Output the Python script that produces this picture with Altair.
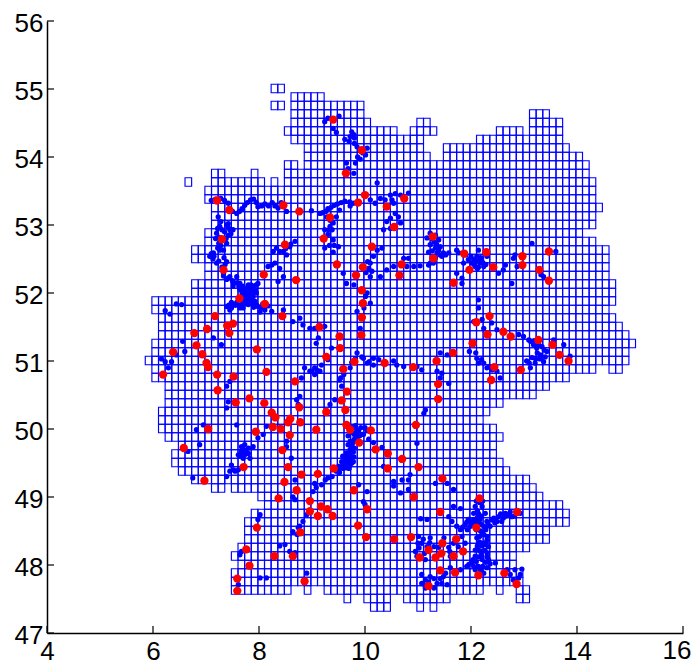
import altair as alt
import pandas as pd

x_ticks = [4, 6, 8, 10, 12, 14, 16]
y_ticks = [47, 48, 49, 50, 51, 52, 53, 54, 55, 56]

grid_west = 5.854
grid_north = 55.07
cell = 0.125
# occupied grid columns per grid row, north to south
grid_rows = [
    [(19, 20)], [(22, 26)], [(19, 20), (22, 32)], [(22, 32), (58, 60)],
    [(22, 33), (41, 42), (58, 62)], [(21, 37), (40, 43), (53, 56), (58, 62)],
    [(22, 41), (50, 62)], [(24, 41), (45, 63)], [(24, 42), (45, 65)],
    [(21, 22), (24, 66)], [(10, 11), (16, 16), (21, 66)],
    [(6, 6), (10, 17), (19, 19), (21, 67)], [(9, 67)], [(9, 67)], [(10, 68)],
    [(10, 67)], [(10, 67)], [(9, 65)], [(9, 67)], [(7, 69)], [(7, 69)],
    [(9, 69)], [(9, 69)], [(7, 70)], [(7, 70)], [(1, 70)], [(1, 69)],
    [(2, 70)], [(2, 71)], [(2, 72)], [(1, 73)], [(1, 72)], [(0, 72)],
    [(1, 67), (70, 71)], [(1, 63)], [(3, 60)], [(3, 58)], [(3, 53)],
    [(2, 51)], [(2, 50)], [(2, 52)], [(3, 53)], [(5, 52)], [(4, 52)],
    [(4, 53)], [(5, 54)], [(7, 57)], [(10, 11), (13, 58)], [(17, 59)],
    [(18, 62)], [(16, 63)], [(15, 63)], [(15, 60)], [(15, 60)], [(14, 57)],
    [(13, 55)], [(14, 55)], [(13, 56)], [(13, 56)],
    [(13, 21), (24, 24), (27, 50), (53, 53), (56, 57)],
    [(30, 30), (33, 36), (39, 45), (56, 57)],
    [(34, 36), (41, 41), (43, 43)],
]

red_points = [
    (9.40,54.55),(9.64,53.76),(7.21,53.36),(7.44,53.22),(8.46,53.29),(8.76,53.20),(9.34,53.11),
    (7.30,52.79),(9.22,52.80),(8.49,52.71),(9.47,52.42),(7.33,52.34),(8.09,52.27),(8.70,52.19),
    (7.63,51.92),(8.11,51.84),(7.17,51.66),(8.44,51.66),(7.40,51.52),(7.51,51.55),(7.02,51.47),
    (6.78,51.41),(9.14,51.50),(7.44,51.41),(9.52,51.36),(9.53,51.19),(6.38,51.13),(6.82,51.23),
    (6.93,51.10),(7.96,51.17),(7.01,50.97),(7.04,50.91),(9.27,51.06),(8.14,50.84),(9.59,50.88),
    (6.19,50.80),(7.21,50.80),(7.52,50.77),(8.68,50.70),(7.22,50.57),(9.66,50.55),(7.82,50.45),
    (7.56,50.39),(8.10,50.38),(9.56,50.42),(8.76,50.32),(9.63,50.28),(9.27,50.25),(8.24,50.24),
    (8.31,50.17),(8.59,50.15),(8.55,50.10),(8.78,50.10),(8.26,50.03),(8.41,50.00),(9.65,50.06),
    (9.08,49.99),(7.04,50.00),(7.94,49.96),(8.58,49.91),(9.72,49.99),(10.11,49.98),(9.89,49.80),
    (10.20,49.70),(10.43,49.64),(10.70,49.56),(10.43,49.42),(11.01,49.44),(10.96,50.06),
    (6.58,49.72),(8.44,49.69),(8.55,49.44),(7.71,49.44),(9.41,49.42),(8.80,49.33),(9.11,49.34),
    (8.48,49.22),(6.97,49.24),(8.71,49.10),(8.37,48.98),(8.96,48.94),(9.17,48.86),(9.29,48.82),
    (8.96,48.79),(9.39,48.72),(9.11,48.72),(7.96,48.55),(8.78,48.48),(7.76,48.23),(8.29,48.13),
    (8.64,48.13),(7.82,47.99),(7.59,47.80),(8.86,47.76),(7.59,47.62),(9.79,49.10),(10.04,48.82),
    (9.87,48.58),(10.02,48.41),(10.55,48.38),(10.87,48.41),(10.92,49.00),(11.46,49.27),
    (12.16,48.98),(11.42,48.78),(12.87,48.78),(12.10,48.55),(11.46,48.32),(11.72,48.38),
    (11.20,48.22),(11.85,48.20),(11.44,48.17),(11.67,48.13),(11.03,48.11),(11.33,48.11),
    (11.42,47.92),(11.70,47.89),(12.14,47.85),(12.63,47.88),(12.86,47.72),(11.20,47.69),
    (9.93,51.38),(12.31,51.39),(12.03,51.26),(12.61,51.43),(12.75,51.36),(13.27,51.31),
    (13.54,51.24),(13.67,51.09),(13.84,51.00),(11.66,51.12),(11.35,51.00),(9.80,50.99),
    (10.37,50.97),(10.91,50.91),(12.44,50.91),(12.94,50.87),(12.38,50.72),(11.38,50.66),
    (11.38,50.44),(9.94,54.10),(10.00,53.44),(9.87,53.33),(10.74,53.39),(10.41,53.27),
    (10.55,52.97),(11.28,52.83),(11.29,52.51),(10.13,52.68),(9.96,52.38),(10.69,52.42),
    (10.65,52.26),(9.83,52.26),(9.94,52.04),(9.96,51.85),(9.94,51.64),(11.87,52.58),
    (12.29,52.60),(11.97,52.34),(12.42,52.38),(11.67,52.15),(12.97,52.54),(12.97,52.41),
    (13.47,52.61),(13.29,52.34),(13.47,52.18),(12.35,51.66),(12.10,51.57),
]

blue_north = [
    (9.24,54.52),(9.30,54.57),(9.51,54.60),(9.40,54.42),(9.46,54.36),(9.62,54.26),(9.70,54.23),
    (9.79,54.33),(9.72,54.30),(9.80,54.20),(9.85,54.15),(10.04,54.13),(10.01,54.03),(9.91,53.97),
    (9.82,53.91),(9.79,53.76),(9.65,53.91),(9.68,53.83),(9.75,54.37),(9.80,54.28),(9.96,54.06),(9.86,54.00),
    (7.10,53.36),(7.18,53.38),(7.28,53.39),(7.35,53.36),(7.42,53.32),(7.50,53.20),(7.58,53.17),
    (7.63,53.20),(7.68,53.24),(7.73,53.29),(7.78,53.33),(7.84,53.37),(7.90,53.38),(7.95,53.33),
    (7.98,53.27),(8.05,53.28),(8.11,53.31),(8.18,53.28),(8.25,53.33),(8.30,53.28),(8.36,53.25),
    (8.42,53.33),(8.52,53.20),(8.99,53.21),(9.15,53.17),(9.20,53.18),(9.26,53.20),(9.30,53.24),
    (9.36,53.26),(9.42,53.29),(9.48,53.31),(9.55,53.33),(9.62,53.35),(9.71,53.34),(9.72,53.28),
    (9.78,53.32),(10.10,53.37),(10.19,53.32),(10.29,53.39),(10.38,53.37),(10.48,53.44),(10.57,53.46),
    (10.67,53.44),(10.82,53.47),(10.51,53.37),(10.54,53.32),(10.57,53.17),(10.63,53.12),(10.48,53.10),
    (10.41,53.05),(10.67,53.03),(10.35,52.93),(10.48,52.95),(10.23,53.62),(9.34,53.07),(9.40,53.03),
    (9.34,52.98),(9.24,52.93),(9.38,52.93),(9.30,52.86),(9.40,52.78),(9.24,52.66),(9.33,52.70),
    (9.42,52.70),(9.50,52.68),(9.40,52.60),(9.46,53.12),(9.52,53.22),(9.28,53.12),(9.32,52.93),
]

blue_west = [
    (7.23,53.12),(7.26,52.98),(7.20,52.88),(7.24,52.73),(7.14,52.59),(7.07,52.54),(7.13,52.50),
    (7.20,52.44),(7.39,52.46),(7.34,52.52),(7.39,53.00),(7.45,52.93),(7.51,52.93),(7.42,52.85),
    (7.39,52.73),(7.33,52.63),(7.26,52.63),(7.18,52.80),(7.30,52.93),(7.42,53.02),
    (7.22,52.95),(7.24,52.82),(7.28,52.70),(7.22,52.66),(7.15,52.54),(7.10,52.58),(7.35,52.90),
    (7.38,52.80),(7.42,52.96),(7.36,52.42),(7.30,52.38),(7.24,52.47),(7.28,53.05),(7.47,52.87),
    (7.33,52.25),(7.45,52.24),(7.58,52.24),(7.51,52.14),(7.64,52.14),(7.80,52.12),(7.95,52.12),
    (7.73,52.05),(7.86,52.00),(7.83,51.90),(7.95,51.83),(7.80,51.83),(7.70,51.78),(7.51,51.83),
    (7.39,51.80),(7.45,51.75),(7.64,51.78),(8.11,51.75),(8.24,51.73),(8.07,51.84),(8.17,51.81),
    (7.76,52.00),(7.89,51.95),(7.70,51.95),(7.64,52.05),(7.51,52.10),(7.39,52.20),(7.33,52.29),
    (7.76,51.90),(7.89,51.86),(7.95,52.00),(7.89,52.05),(7.83,52.05),(7.58,51.86),(7.68,51.88),
    (7.48,51.78),(7.70,52.10),(7.86,52.08),(7.76,51.84),(7.90,51.79),(8.02,51.72),
    (7.42,52.22),(7.50,52.18),(7.57,52.15),(7.62,52.10),(7.68,52.06),(7.73,52.00),(7.78,52.07),
    (7.82,52.00),(7.85,52.12),(7.90,52.10),(7.93,52.05),(7.98,52.14),(7.78,51.96),(7.72,51.92),
    (7.80,51.88),(7.86,51.90),(7.92,51.88),(7.98,51.80),(8.04,51.78),(7.55,51.82),(7.62,51.82),
    (7.70,51.83),(7.43,51.82),(7.48,51.86),(7.83,51.96),(7.68,52.00),
    (8.24,52.41),(8.30,52.44),(8.39,52.36),(8.46,52.24),(8.36,52.17),(8.17,52.39),(8.33,52.66),
    (8.39,52.61),(8.52,52.56),(8.58,52.68),(8.68,52.76),(8.27,52.61),(8.46,52.61),(8.50,52.65),
    (8.60,52.72),(6.23,51.74),(6.32,51.69),(6.44,51.84),(6.54,51.83),(8.64,51.58),(8.77,51.63),
    (8.83,51.53),(8.96,51.48),(9.24,51.51),(9.05,51.48),(8.46,51.75),(9.59,52.29),(9.65,52.14),
    (6.56,51.29),(6.60,51.14),(6.44,51.09),(6.35,50.99),(6.23,50.99),(6.29,50.90),(6.16,51.03),
    (7.14,51.34),(7.29,51.24),(7.45,50.70),(7.39,50.63),(7.42,50.40),(7.39,50.31),(7.58,50.06),
]

blue_centre = [
    (10.32,52.66),(10.23,52.63),(10.16,52.54),(10.10,52.44),(10.13,52.32),(10.07,52.36),(10.10,52.24),
    (10.29,52.24),(10.41,52.34),(10.54,52.39),(10.73,52.51),(10.82,52.51),(10.79,52.39),(10.92,52.39),
    (11.04,52.40),(11.20,52.41),(11.29,52.44),(9.79,52.12),(10.04,52.00),(10.10,51.85),(9.85,51.73),
    (9.91,51.48),(11.17,52.81),(11.23,52.71),(11.33,52.85),(11.39,52.78),(11.42,52.68),(11.48,52.59),
    (11.33,52.66),(11.23,52.88),(11.36,52.59),(11.45,52.54),(11.58,52.59),(11.73,52.63),(11.23,52.44),
    (11.30,52.75),(11.39,52.63),(11.52,52.56),(10.05,52.46),(10.02,52.30),(10.01,51.95),(9.98,51.78),
    (11.27,52.80),(11.35,52.72),(11.27,52.62),(11.42,52.56),(11.33,52.52),(11.20,52.60),
    (8.86,50.90),(8.96,50.85),(9.05,50.90),(9.15,50.85),(9.05,50.80),(9.18,50.94),(9.30,51.02),
    (9.08,51.26),(9.12,51.34),(9.37,51.19),(9.52,50.72),(9.56,50.63),(8.80,50.75),(8.77,50.48),
    (8.71,50.43),(8.74,50.36),(9.34,50.36),(9.43,50.43),(9.85,51.12),(9.82,51.04),(9.97,51.04),
    (10.04,50.97),(10.16,51.04),(10.16,50.94),(10.26,51.02),(10.54,51.00),(10.60,50.94),(10.73,50.92),
    (10.98,50.92),(11.07,50.87),(11.42,51.12),(11.55,51.09),(11.36,50.85),(11.45,50.82),(11.42,50.75),
    (11.58,50.67),(11.14,50.28),(11.11,50.23),(9.94,51.06),(10.08,50.99),(9.75,50.98),(9.72,50.90),
    (9.54,50.75),(9.60,50.80),(9.00,50.85),(9.10,50.86),
]

blue_east = [
    (11.77,52.59),(11.86,52.44),(12.05,52.49),(12.14,52.63),(12.17,52.44),(12.11,52.54),(12.24,52.39),
    (12.08,52.39),(12.30,52.54),(11.95,52.49),(11.73,52.29),(11.83,52.22),(11.83,52.14),(12.52,52.29),
    (12.61,52.34),(12.65,52.41),(12.77,52.14),(12.83,52.56),(12.80,52.51),(12.87,52.39),(13.15,52.73),
    (13.37,52.24),(13.32,52.27),(13.60,52.61),(12.20,52.50),(12.02,52.44),(12.28,52.42),(12.14,52.38),
    (12.12,52.47),(12.06,52.42),(12.18,52.52),(12.22,52.45),(12.00,52.54),(12.12,52.36),(11.90,52.56),
    (12.14,51.90),(12.14,51.78),(12.21,51.61),(12.05,51.58),(12.24,51.48),(12.39,51.56),(12.49,51.46),
    (11.97,51.14),(12.09,51.12),(12.90,51.39),(12.99,51.36),(13.09,51.31),(13.18,51.24),(13.24,51.19),
    (13.34,51.21),(13.43,51.14),(13.31,51.09),(13.37,50.99),(13.21,50.97),(13.12,50.90),(13.05,51.00),
    (12.24,50.97),(12.14,50.97),(12.30,50.90),(12.11,51.04),(12.55,50.75),(12.49,50.85),(13.12,51.29),
    (13.56,51.31),(13.75,51.24),(13.87,51.07),(13.25,51.12),(13.30,51.03),(13.40,51.06),(12.20,51.02),
    (12.35,50.92),(12.40,50.87),(13.20,51.30),(13.28,51.24),(13.15,51.05),(13.38,51.16),(13.10,50.97),
    (13.22,51.03),
]

blue_south_west = [
    (7.64,48.15),(7.67,48.20),(8.49,48.30),(8.39,48.28),(8.58,48.20),(8.64,48.49),(8.77,48.57),
    (8.83,48.64),(8.90,48.74),(8.02,48.74),(7.98,48.67),(7.61,47.71),(8.02,47.81),(8.14,47.81),
    (8.90,47.88),(8.68,48.18),(7.67,49.74),(7.73,49.77),(7.80,49.72),(7.89,49.74),(7.61,49.62),
    (7.67,49.67),(7.73,49.62),(7.80,49.64),(7.83,49.57),(7.70,49.57),(7.98,49.87),(8.08,49.92),
    (7.48,49.47),(7.45,49.38),(7.55,49.38),(7.39,49.30),(7.61,49.40),(7.66,49.60),(7.75,49.68),
    (7.70,49.70),(7.52,49.40),(6.82,49.99),(6.95,50.06),(6.88,49.77),(6.66,49.67),(6.75,49.28),
    (8.52,49.74),(8.61,49.57),(8.14,50.04),(8.68,49.25),(8.64,49.00),(8.68,48.96),(8.72,48.45),
    (8.74,48.55),(9.05,49.20),(9.02,49.08),(9.18,49.18),(9.30,49.28),(9.46,49.38),(9.56,49.52),
    (9.65,49.65),(9.68,49.77),(9.59,49.42),(9.68,49.50),(8.52,49.82),(9.08,49.14),(9.25,49.25),
    (9.38,49.30),(9.50,49.45),(9.62,49.58),(9.72,49.60),(9.62,49.48),(9.52,49.36),(9.72,49.70),
    (9.72,49.82),(9.68,49.90),(9.75,49.55),(9.70,49.42),(9.58,49.60),
    (9.79,50.02),(9.88,49.97),(10.00,50.02),(9.97,49.92),(9.79,49.82),(9.85,49.87),(9.75,49.66),
    (9.79,49.59),(9.75,49.50),(10.07,49.85),(10.16,49.80),(10.32,49.73),(10.98,49.79),(10.85,49.33),
    (10.82,49.25),(10.54,49.23),(10.70,49.25),(10.54,49.16),(10.67,49.06),(10.82,49.11),(11.33,49.20),
    (11.55,49.20),(11.67,49.11),(9.97,48.93),(10.04,49.08),(9.88,49.18),(10.00,48.89),(10.35,49.45),
    (9.95,49.92),(9.90,49.90),(9.80,49.72),(9.76,49.78),(9.84,49.95),
    (9.76,49.95),(9.80,49.92),(9.84,49.88),(9.80,49.85),(9.74,49.75),(9.78,49.66),(9.70,49.65),
    (9.66,49.60),(9.62,49.53),(9.68,49.55),(9.58,49.47),(9.52,49.42),(9.78,49.52),(9.72,49.47),
    (9.65,49.43),(9.85,49.98),(9.92,50.02),(10.04,49.98),(9.74,50.03),(9.82,50.05),
]

blue_south_east = [
    (12.08,48.86),(12.21,48.86),(12.05,48.76),(12.14,48.76),(12.27,48.76),(11.95,48.67),(12.05,48.67),
    (12.17,48.67),(11.89,48.59),(11.99,48.57),(12.24,48.57),(12.30,48.64),(12.43,48.69),(12.52,48.71),
    (12.65,48.76),(12.77,48.71),(12.93,48.76),(12.49,48.64),(12.61,48.69),(12.36,48.57),(12.21,48.47),
    (12.30,48.42),(12.11,48.40),(12.24,48.32),(12.33,48.27),(12.14,48.22),(12.30,48.18),(12.08,48.13),
    (12.21,48.08),(12.33,48.08),(12.02,48.03),(11.92,47.98),(12.14,47.98),(12.30,47.96),(12.24,47.88),
    (12.08,47.93),(12.46,48.03),(11.73,48.57),(11.64,48.64),(11.58,48.71),(11.80,48.52),(11.83,48.42),
    (11.67,48.32),(11.60,48.20),(11.76,48.27),(11.89,48.32),(11.67,48.86),(11.80,48.83),
    (12.16,48.92),(12.12,48.80),(12.20,48.72),(12.10,48.62),(12.02,48.60),(11.92,48.63),(12.18,48.50),
    (12.28,48.52),(12.16,48.34),(12.12,48.28),(12.26,48.22),(12.20,48.14),(12.10,48.05),(12.22,47.98),
    (12.40,48.66),(12.72,48.74),(12.82,48.72),(12.56,48.75),
    (12.12,48.70),(12.18,48.60),(12.10,48.52),(12.24,48.45),(12.16,48.42),(12.30,48.36),(12.20,48.28),
    (12.27,48.30),(12.08,48.22),(12.18,48.20),(12.04,48.08),(12.14,48.12),(12.28,48.04),(11.96,48.01),
    (12.05,47.98),(12.36,48.02),(12.18,47.92),(12.30,48.12),(12.00,48.63),(11.85,48.56),(11.93,48.52),
    (12.08,48.58),(12.32,48.58),(12.45,48.62),(12.58,48.64),(12.66,48.72),(12.74,48.78),(12.22,48.94),
    (12.10,48.94),(12.13,48.68),
    (11.01,48.42),(11.07,48.32),(11.17,48.27),(10.95,48.20),(11.23,48.40),(11.30,48.27),(11.03,48.13),
    (11.14,48.08),(11.49,48.40),(11.05,48.68),(11.17,48.67),(11.39,48.26),(11.58,48.26),(11.61,48.13),
    (11.10,48.38),(11.02,48.25),(11.12,48.17),(11.00,48.32),(11.22,48.33),(10.98,48.13),
    (11.07,47.86),(11.14,47.78),(11.23,47.83),(11.07,47.73),(11.36,47.73),(11.52,47.88),(11.55,47.71),
    (11.48,47.83),(11.30,47.66),(11.14,47.66),(11.61,47.96),(11.80,47.93),(11.10,47.72),(11.20,47.75),
    (11.42,47.80),(11.45,47.73),(11.30,47.80),
    (12.68,47.93),(12.74,47.86),(12.83,47.93),(12.93,47.86),(12.80,47.78),(12.90,47.81),(12.96,47.94),
]

rows = []
for i, spans in enumerate(grid_rows):
    top = grid_north - i * cell
    for first, last in spans:
        for c in range(first, last + 1):
            rows.append({"x1": grid_west + c * cell, "x2": grid_west + (c + 1) * cell,
                         "y1": top - cell, "y2": top})
grid_df = pd.DataFrame(rows)

blue = blue_north + blue_west + blue_centre + blue_east + blue_south_west + blue_south_east
blue_df = pd.DataFrame(blue, columns=["lon", "lat"])
red_df = pd.DataFrame(red_points, columns=["lon", "lat"])

x_scale = alt.Scale(domain=[4, 16], nice=False, zero=False)
y_scale = alt.Scale(domain=[47, 56], nice=False, zero=False)
FONT = "Liberation Sans"

x_axis = alt.Axis(values=x_ticks[:-1], title=None, grid=False, tickSize=0, labelFont=FONT, labelFontSize=26,
                  labelColor="#000000", labelPadding=5, domainColor="#000000", domainWidth=1.5,
                  labelOverlap=False, labelFlush=False, labelBound=False, format="d")
y_axis = alt.Axis(values=y_ticks, title=None, grid=False, tickSize=0, labelFont=FONT, labelFontSize=26,
                  labelColor="#000000", labelPadding=4, labelOffset=2, domainColor="#000000", domainWidth=1.5,
                  labelOverlap=False, labelFlush=False, labelBound=False, format="d")

grid = alt.Chart(grid_df).mark_rect(fill="transparent", stroke="#0000ff", strokeWidth=1.15).encode(
    x=alt.X("x1:Q", scale=x_scale, axis=x_axis),
    x2="x2:Q",
    y=alt.Y("y1:Q", scale=y_scale, axis=y_axis),
    y2="y2:Q",
)
blue_layer = alt.Chart(blue_df).mark_circle(color="#0000ff", size=28, opacity=1).encode(
    x=alt.X("lon:Q", scale=x_scale), y=alt.Y("lat:Q", scale=y_scale))
red_layer = alt.Chart(red_df).mark_circle(color="#ff0000", size=70, opacity=1).encode(
    x=alt.X("lon:Q", scale=x_scale), y=alt.Y("lat:Q", scale=y_scale))
x_tick_layer = alt.Chart(pd.DataFrame({"v": x_ticks})).mark_rule(color="#000000", strokeWidth=1.2).encode(
    x=alt.X("v:Q", scale=x_scale), y=alt.value(612), y2=alt.value(605))
y_tick_layer = alt.Chart(pd.DataFrame({"v": y_ticks})).mark_rule(color="#000000", strokeWidth=1.2).encode(
    y=alt.Y("v:Q", scale=y_scale), x=alt.value(0), x2=alt.value(7))
last_label = alt.Chart(pd.DataFrame({"v": x_ticks[-1:], "t": [str(x_ticks[-1])]})).mark_text(
    font=FONT, fontSize=26, color="#000000", baseline="top", align="center", dx=-6
).encode(x=alt.X("v:Q", scale=x_scale), y=alt.value(617), text="t:N")

chart = (grid + blue_layer + red_layer + x_tick_layer + y_tick_layer + last_label).properties(
    width=636, height=612,
    autosize=alt.AutoSizeParams(type="none"),
    padding={"left": 39, "top": 13, "right": 8, "bottom": 31},
).configure_view(stroke=None)

chart.save("out.html", embed_options={"renderer": "svg", "actions": False})
